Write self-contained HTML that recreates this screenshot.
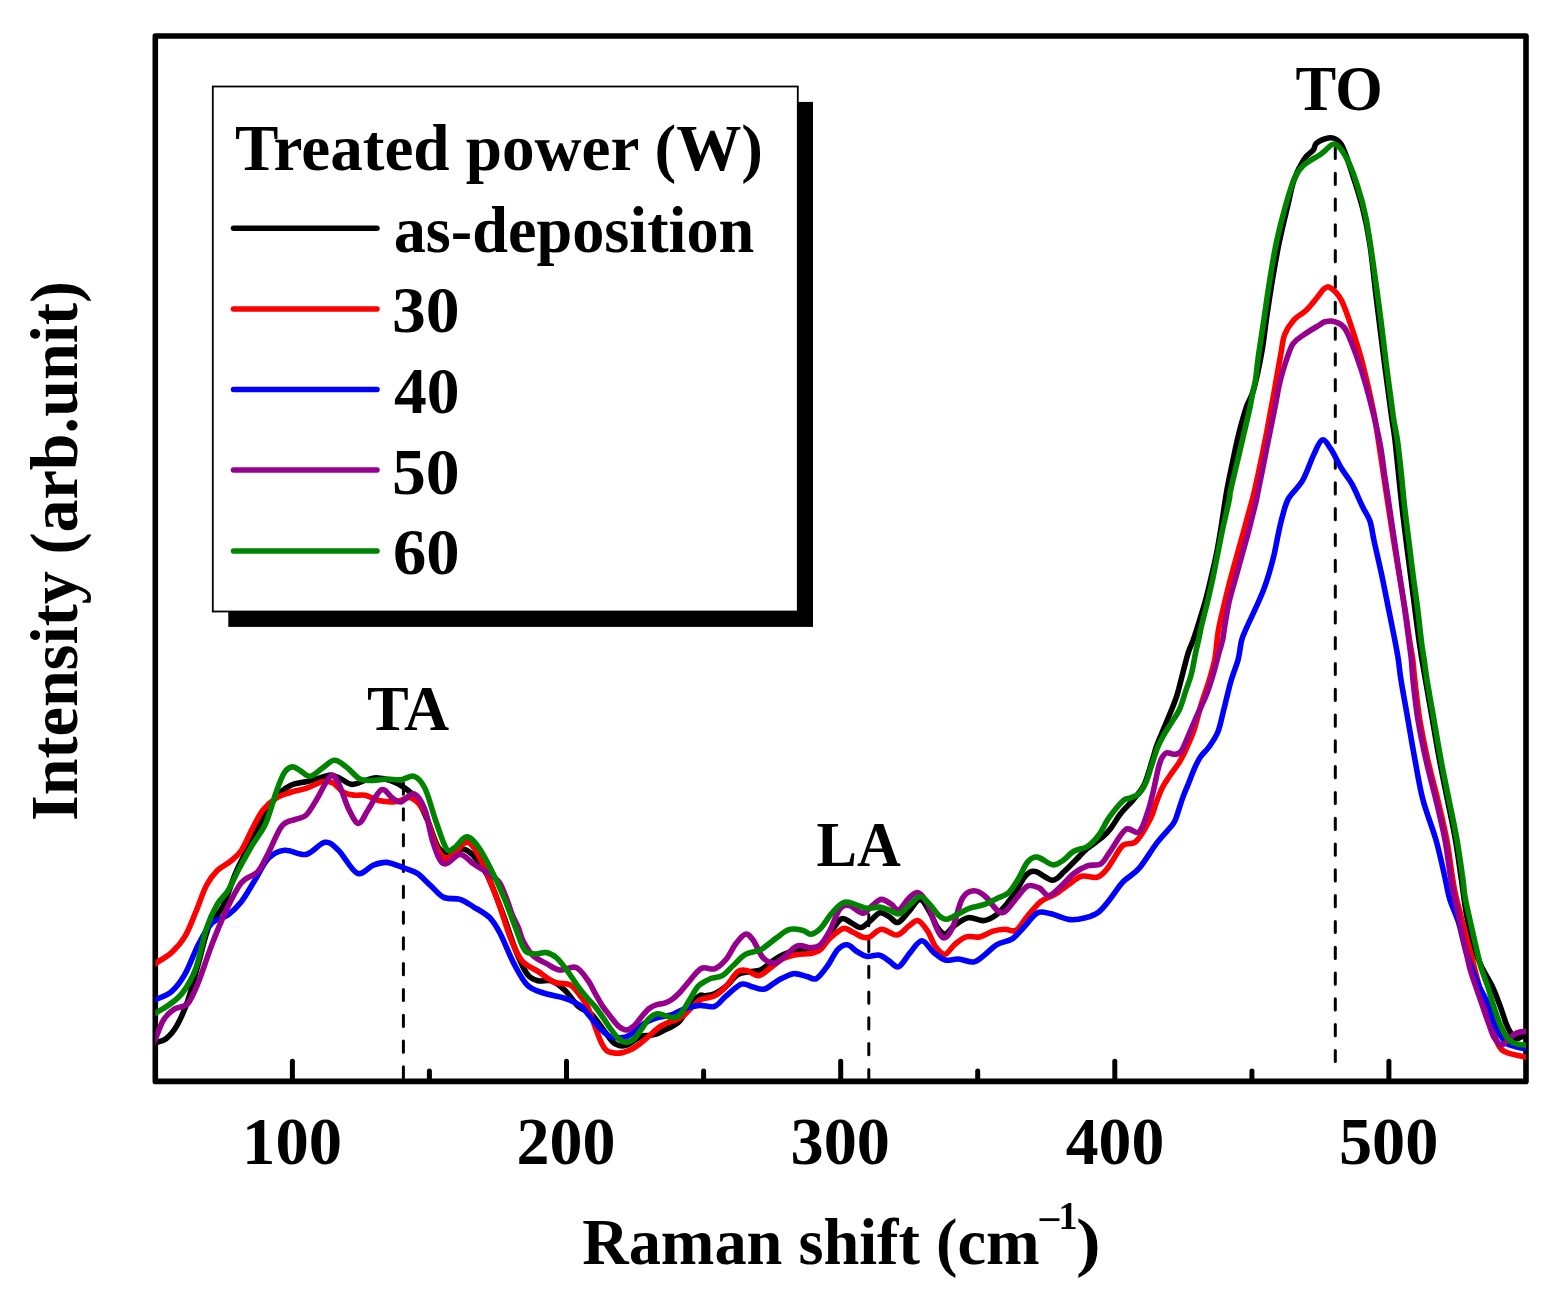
<!DOCTYPE html><html><head><meta charset="utf-8"><title>Raman spectra</title><style>html,body{margin:0;padding:0;background:#fff;overflow:hidden}svg{display:block}text{font-family:'Liberation Serif','Times New Roman',serif;font-weight:bold}</style></head><body>
<svg width="1560" height="1300" viewBox="0 0 1560 1300">
<rect x="0" y="0" width="1560" height="1300" fill="#fff"/>
<defs><clipPath id="pc"><rect x="155.3" y="36.0" width="1370.7" height="1045.4"/></clipPath></defs>
<g stroke="#000" stroke-width="5" stroke-linecap="round"><line x1="292.4" y1="1081.4" x2="292.4" y2="1061.2"/><line x1="429.4" y1="1081.4" x2="429.4" y2="1071.1"/><line x1="566.5" y1="1081.4" x2="566.5" y2="1061.2"/><line x1="703.6" y1="1081.4" x2="703.6" y2="1071.1"/><line x1="840.7" y1="1081.4" x2="840.7" y2="1061.2"/><line x1="977.7" y1="1081.4" x2="977.7" y2="1071.1"/><line x1="1114.8" y1="1081.4" x2="1114.8" y2="1061.2"/><line x1="1251.9" y1="1081.4" x2="1251.9" y2="1071.1"/><line x1="1388.9" y1="1081.4" x2="1388.9" y2="1061.2"/></g>
<rect x="155.3" y="36.0" width="1370.7" height="1045.4" fill="none" stroke="#000" stroke-width="5.6" stroke-linejoin="round"/>
<line x1="403.4" y1="783.0" x2="403.4" y2="1081.4" stroke="#000" stroke-width="3" stroke-linecap="round" stroke-dasharray="11.2 14.6"/>
<line x1="868.8" y1="914.6" x2="868.8" y2="1081.4" stroke="#000" stroke-width="3" stroke-linecap="round" stroke-dasharray="11.2 14.6"/>
<line x1="1335.3" y1="147.4" x2="1335.3" y2="1070.0" stroke="#000" stroke-width="3" stroke-linecap="round" stroke-dasharray="11.2 14.6"/>
<g clip-path="url(#pc)" fill="none" stroke-width="5.6" stroke-linejoin="round" stroke-linecap="round">
<path d="M150.0,1044.0 C150.9,1043.8 152.7,1043.6 155.4,1042.7 C158.1,1041.8 162.4,1041.6 166.0,1038.7 C169.6,1035.8 173.4,1031.6 177.0,1025.3 C180.6,1019.0 184.1,1011.3 187.7,1001.0 C191.3,990.7 194.8,975.9 198.4,963.4 C202.0,950.9 205.1,935.1 209.2,925.7 C213.2,916.3 218.2,915.8 222.7,906.8 C227.2,897.8 231.6,882.2 236.1,871.9 C240.6,861.6 245.1,854.0 249.6,845.0 C254.1,836.0 258.5,826.1 263.0,818.0 C267.5,809.9 272.0,801.9 276.5,796.5 C281.0,791.1 285.1,788.2 290.0,785.7 C294.9,783.2 301.5,782.8 306.0,781.7 C310.5,780.6 312.8,780.1 316.8,779.0 C320.9,777.9 326.3,775.0 330.3,775.0 C334.3,775.0 337.4,777.4 341.0,779.0 C344.6,780.6 347.8,784.2 351.8,784.4 C355.9,784.6 361.3,781.5 365.3,780.4 C369.3,779.3 371.9,777.7 376.0,777.7 C380.1,777.7 385.4,778.8 390.0,780.4 C394.6,782.0 399.0,784.0 403.5,787.1 C408.0,790.2 412.9,793.6 416.9,799.2 C420.9,804.8 424.1,812.6 427.7,820.7 C431.3,828.8 434.8,842.2 438.4,847.6 C442.0,853.0 445.1,852.8 449.2,853.0 C453.2,853.2 458.7,848.5 462.7,849.0 C466.7,849.5 469.4,851.4 473.4,855.7 C477.4,860.0 482.1,865.2 486.9,874.6 C491.7,884.0 497.5,899.7 502.3,912.2 C507.1,924.8 511.4,939.6 515.5,949.9 C519.6,960.2 523.5,969.0 527.2,974.1 C531.0,979.2 534.0,979.7 538.0,980.8 C542.0,981.9 547.0,979.2 551.5,980.8 C556.0,982.4 560.4,986.0 564.9,990.3 C569.4,994.6 574.0,1002.4 578.4,1006.4 C582.8,1010.4 587.4,1010.5 591.5,1014.3 C595.6,1018.1 599.5,1024.7 603.0,1029.2 C606.5,1033.7 609.7,1038.8 612.3,1041.5 C614.9,1044.2 616.2,1044.8 618.5,1045.4 C620.8,1046.1 623.7,1046.2 626.2,1045.4 C628.8,1044.6 631.2,1042.3 633.8,1040.8 C636.3,1039.3 638.9,1037.1 641.5,1036.2 C644.1,1035.3 646.6,1035.8 649.2,1035.4 C651.8,1035.0 654.3,1034.7 656.9,1033.8 C659.5,1032.9 662.0,1031.3 664.6,1030.0 C667.2,1028.7 669.7,1027.7 672.3,1026.2 C674.9,1024.7 676.8,1024.7 680.0,1020.8 C683.2,1016.9 688.2,1007.2 691.5,1003.0 C694.8,998.8 697.8,996.6 700.0,995.4 C702.2,994.2 702.6,996.1 705.0,995.8 C707.4,995.5 711.1,995.4 714.6,993.8 C718.1,992.2 722.4,989.4 726.2,986.2 C730.1,983.0 733.9,977.0 737.7,974.6 C741.5,972.2 745.4,972.5 749.2,971.7 C753.1,970.9 756.9,971.5 760.8,969.8 C764.6,968.0 768.5,963.8 772.3,961.2 C776.1,958.6 779.6,956.2 783.8,954.4 C788.0,952.6 792.8,951.1 797.3,950.6 C801.8,950.1 806.6,952.3 810.8,951.5 C815.0,950.7 818.8,949.3 822.3,945.8 C825.8,942.3 828.7,934.9 831.9,930.4 C835.1,925.9 838.3,920.1 841.5,918.8 C844.7,917.5 848.0,921.2 851.2,922.7 C854.4,924.2 857.6,927.8 860.8,927.5 C864.0,927.2 867.3,923.2 870.4,920.8 C873.5,918.4 876.5,913.6 879.6,912.9 C882.7,912.2 886.2,915.1 889.2,916.7 C892.2,918.3 894.7,923.3 897.9,922.5 C901.1,921.7 904.8,915.8 908.5,911.9 C912.2,908.0 916.5,899.4 920.0,899.4 C923.5,899.4 926.7,907.2 929.6,911.9 C932.5,916.5 934.7,923.6 937.3,927.3 C939.9,931.0 942.1,934.3 945.0,934.0 C947.9,933.7 950.8,928.1 954.6,925.4 C958.5,922.7 963.3,918.5 968.1,917.7 C972.9,916.9 979.0,920.9 983.5,920.6 C988.0,920.3 991.2,918.5 995.0,915.8 C998.8,913.1 1003.0,908.4 1006.5,904.2 C1010.0,900.0 1013.0,895.6 1016.2,890.8 C1019.4,886.0 1022.6,878.6 1025.8,875.4 C1029.0,872.2 1030.9,870.7 1035.4,871.5 C1039.9,872.3 1047.9,880.2 1052.7,880.2 C1057.5,880.2 1060.4,874.9 1064.2,871.5 C1068.0,868.1 1072.0,863.8 1075.8,860.0 C1079.6,856.2 1082.8,852.4 1087.3,848.5 C1091.8,844.6 1098.8,840.3 1102.7,836.9 C1106.7,833.5 1108.0,831.9 1111.0,828.0 C1114.0,824.1 1116.8,818.6 1120.5,813.8 C1124.2,809.0 1129.6,804.2 1133.5,799.4 C1137.4,794.6 1140.9,791.3 1144.0,785.0 C1147.1,778.7 1149.9,767.9 1151.9,761.6 C1154.0,755.3 1154.6,751.9 1156.3,747.0 C1158.0,742.1 1160.0,737.7 1162.2,732.3 C1164.4,726.9 1167.1,720.9 1169.5,714.8 C1171.9,708.7 1174.6,702.6 1176.8,695.8 C1179.0,689.0 1180.6,681.2 1182.6,673.9 C1184.5,666.6 1186.8,657.2 1188.5,651.9 C1190.2,646.6 1191.2,645.6 1192.5,642.0 C1193.8,638.4 1194.5,636.5 1196.5,630.0 C1198.5,623.5 1202.4,611.7 1204.8,603.1 C1207.2,594.5 1209.0,586.7 1210.9,578.5 C1212.9,570.3 1214.8,562.0 1216.5,553.8 C1218.2,545.6 1219.1,539.7 1220.8,529.2 C1222.5,518.7 1224.9,501.8 1226.8,490.8 C1228.7,479.8 1230.5,472.3 1232.4,463.1 C1234.3,453.9 1236.1,444.6 1238.4,435.4 C1240.7,426.2 1243.7,415.3 1246.2,407.7 C1248.7,400.1 1250.9,399.1 1253.5,390.0 C1256.1,380.9 1259.4,365.4 1261.6,353.1 C1263.8,340.8 1265.0,328.5 1266.8,316.2 C1268.6,303.9 1270.4,291.5 1272.5,279.2 C1274.6,266.9 1276.7,254.6 1279.2,242.3 C1281.8,230.0 1285.3,215.8 1287.8,205.4 C1290.3,195.0 1291.3,187.7 1294.0,180.0 C1296.7,172.3 1300.9,164.2 1304.1,159.2 C1307.3,154.2 1311.2,152.7 1313.3,150.0 C1315.4,147.3 1313.8,145.1 1316.7,143.0 C1319.6,140.9 1326.7,137.4 1330.8,137.7 C1334.9,138.0 1337.9,138.9 1341.4,144.8 C1344.9,150.7 1348.5,162.4 1352.0,173.0 C1355.5,183.6 1359.7,196.4 1362.7,208.4 C1365.7,220.4 1367.7,229.8 1370.0,245.0 C1372.3,260.2 1374.0,279.5 1376.5,299.6 C1379.0,319.7 1382.3,346.5 1384.8,365.8 C1387.3,385.1 1389.7,403.1 1391.4,415.5 C1393.1,427.9 1393.2,424.6 1395.0,440.0 C1396.8,455.4 1399.5,485.1 1402.1,507.7 C1404.7,530.2 1407.7,552.8 1410.6,575.3 C1413.5,597.8 1416.9,625.5 1419.4,643.0 C1421.9,660.5 1423.3,667.2 1425.5,680.0 C1427.7,692.8 1430.2,706.7 1432.5,720.0 C1434.8,733.3 1437.0,746.7 1439.5,760.0 C1442.0,773.3 1444.8,786.7 1447.5,800.0 C1450.2,813.3 1453.2,826.7 1455.5,840.0 C1457.8,853.3 1459.6,867.4 1461.5,880.0 C1463.4,892.6 1464.5,903.9 1466.7,915.6 C1469.0,927.3 1472.4,941.2 1475.0,950.0 C1477.6,958.8 1479.6,962.4 1482.5,968.5 C1485.4,974.6 1489.6,980.8 1492.5,986.9 C1495.4,993.0 1497.6,999.2 1499.9,1005.4 C1502.2,1011.6 1504.5,1019.3 1506.3,1023.9 C1508.1,1028.5 1509.2,1030.6 1510.9,1033.1 C1512.6,1035.5 1514.3,1038.2 1516.5,1038.6 C1518.7,1039.0 1521.3,1036.4 1523.9,1035.5 C1526.5,1034.6 1530.7,1033.4 1532.0,1033.0" stroke="#000000"/>
<path d="M150.0,967.0 C150.9,966.4 151.8,965.8 155.4,963.4 C159.0,961.0 166.6,957.1 171.5,952.6 C176.4,948.1 181.0,943.1 185.0,936.4 C189.0,929.7 192.1,920.7 195.7,912.2 C199.3,903.7 202.9,892.2 206.5,885.3 C210.1,878.3 213.3,874.5 217.3,870.5 C221.3,866.5 226.7,864.5 230.7,861.1 C234.7,857.7 237.9,855.7 241.5,850.3 C245.1,844.9 248.7,835.5 252.3,828.8 C255.9,822.1 259.0,815.1 263.0,810.0 C267.0,804.9 272.0,800.8 276.5,797.9 C281.0,795.0 285.1,794.1 290.0,792.5 C294.9,790.9 300.6,790.2 306.0,788.4 C311.4,786.6 317.7,782.6 322.2,781.7 C326.7,780.8 329.4,781.2 333.0,783.0 C336.6,784.8 340.2,790.5 343.8,792.5 C347.4,794.5 350.9,794.8 354.5,795.2 C358.1,795.7 361.3,794.3 365.3,795.2 C369.3,796.1 374.2,799.4 378.7,800.5 C383.2,801.6 388.5,801.9 392.2,801.9 C395.9,801.9 397.6,801.2 400.8,800.5 C404.0,799.8 407.5,795.9 411.5,797.9 C415.5,799.9 421.0,804.9 425.0,812.7 C429.0,820.6 432.3,837.4 435.7,845.0 C439.1,852.6 442.0,857.1 445.2,858.4 C448.4,859.7 450.8,855.7 454.6,853.0 C458.4,850.3 463.5,840.9 468.0,842.3 C472.5,843.6 476.5,851.2 481.5,861.1 C486.5,871.0 493.1,888.5 498.0,901.5 C502.9,914.5 506.9,929.2 510.9,939.1 C514.9,949.0 517.4,955.3 521.9,960.7 C526.4,966.1 532.6,967.8 538.0,971.4 C543.4,975.0 548.8,980.0 554.2,982.2 C559.6,984.5 566.0,982.7 570.3,984.9 C574.6,987.1 577.1,991.7 580.0,995.4 C582.9,999.1 585.1,1001.5 587.7,1006.9 C590.3,1012.3 593.1,1021.7 595.4,1027.7 C597.7,1033.7 599.6,1039.2 601.5,1043.0 C603.4,1046.8 604.7,1049.1 606.9,1050.8 C609.1,1052.5 612.0,1052.8 614.6,1053.1 C617.2,1053.4 619.7,1053.2 622.3,1052.7 C624.9,1052.2 627.4,1051.2 630.0,1050.0 C632.6,1048.8 635.1,1047.2 637.7,1045.4 C640.3,1043.6 642.8,1041.4 645.4,1039.2 C648.0,1037.0 650.5,1034.5 653.1,1032.3 C655.7,1030.1 658.2,1027.9 660.8,1026.2 C663.4,1024.5 665.9,1023.3 668.5,1022.3 C671.1,1021.3 673.7,1021.1 676.2,1020.0 C678.8,1018.9 681.2,1017.4 683.8,1015.4 C686.3,1013.4 688.8,1010.3 691.5,1007.7 C694.2,1005.1 696.1,1002.0 700.0,1000.0 C703.9,998.0 710.2,998.1 714.6,995.8 C719.0,993.5 722.4,990.2 726.2,986.2 C730.1,982.2 734.2,974.3 737.7,971.7 C741.2,969.1 743.8,970.1 747.3,970.8 C750.8,971.4 754.9,976.1 758.8,975.6 C762.6,975.1 766.2,970.8 770.4,967.9 C774.6,965.0 779.3,960.5 783.8,958.3 C788.3,956.0 792.8,955.2 797.3,954.4 C801.8,953.6 806.9,954.3 810.8,953.5 C814.6,952.7 817.2,952.2 820.4,949.6 C823.6,947.0 826.1,941.6 830.0,938.1 C833.9,934.6 839.6,929.5 843.5,928.5 C847.4,927.5 849.9,930.9 853.1,932.3 C856.3,933.7 859.9,936.3 862.7,937.1 C865.5,937.9 866.9,938.2 870.0,936.9 C873.1,935.6 877.0,929.5 881.5,929.2 C886.0,928.9 892.4,935.5 896.9,935.0 C901.4,934.5 905.0,928.7 908.5,926.3 C912.0,923.9 914.9,919.8 918.1,920.6 C921.3,921.4 924.8,926.9 927.7,931.2 C930.6,935.5 932.5,942.7 935.4,946.5 C938.3,950.3 941.8,954.5 945.0,954.2 C948.2,953.9 951.1,947.5 954.6,944.6 C958.1,941.7 962.0,938.2 966.2,936.9 C970.4,935.6 975.1,937.8 979.6,936.9 C984.1,936.0 988.9,932.5 993.1,931.2 C997.3,929.9 1000.8,929.4 1004.6,929.2 C1008.5,929.0 1012.4,932.4 1016.2,930.2 C1020.1,928.0 1023.5,920.6 1027.7,915.8 C1031.9,911.0 1036.7,904.8 1041.2,901.3 C1045.7,897.8 1050.1,897.3 1054.6,894.6 C1059.1,891.9 1063.6,888.0 1068.1,885.0 C1072.6,882.0 1076.7,877.6 1081.5,876.3 C1086.3,875.0 1092.7,878.4 1096.9,877.3 C1101.1,876.2 1103.8,872.5 1106.5,869.6 C1109.2,866.7 1110.2,864.1 1113.0,860.0 C1115.8,855.9 1119.2,848.3 1123.1,845.2 C1127.0,842.1 1131.6,845.7 1136.2,841.3 C1140.8,836.9 1147.2,825.1 1150.5,818.6 C1153.8,812.1 1154.3,807.6 1156.3,802.5 C1158.2,797.4 1160.0,792.3 1162.2,787.9 C1164.4,783.5 1166.6,780.6 1169.5,776.2 C1172.4,771.8 1176.8,766.5 1179.7,761.6 C1182.6,756.7 1184.6,752.4 1187.0,747.0 C1189.4,741.6 1191.9,736.7 1194.3,729.4 C1196.7,722.1 1199.2,711.1 1201.6,703.1 C1204.0,695.1 1206.7,688.5 1208.9,681.2 C1211.1,673.9 1213.4,666.1 1214.8,659.2 C1216.2,652.3 1216.4,645.2 1217.1,640.0 C1217.8,634.8 1217.7,633.9 1218.9,627.7 C1220.1,621.6 1222.5,611.3 1224.5,603.1 C1226.5,594.9 1228.4,586.7 1230.6,578.5 C1232.8,570.3 1235.1,562.0 1237.4,553.8 C1239.7,545.6 1241.7,538.2 1244.2,529.2 C1246.7,520.2 1250.5,506.4 1252.2,500.0 C1253.9,493.6 1253.1,496.9 1254.5,490.8 C1255.9,484.7 1258.6,472.3 1260.5,463.1 C1262.4,453.9 1264.3,444.6 1266.1,435.4 C1267.9,426.2 1269.8,415.3 1271.2,407.7 C1272.6,400.1 1273.7,394.6 1274.5,390.0 C1275.3,385.4 1275.1,386.1 1276.2,380.0 C1277.3,373.9 1279.6,360.7 1281.0,353.1 C1282.4,345.5 1282.5,340.2 1284.7,334.6 C1286.9,329.1 1290.4,323.8 1293.9,319.8 C1297.4,315.8 1302.1,314.3 1305.9,310.6 C1309.8,306.9 1313.9,301.4 1317.0,297.7 C1320.1,294.0 1322.1,290.1 1324.4,288.5 C1326.7,286.9 1328.0,286.0 1330.8,288.0 C1333.6,290.0 1337.9,293.5 1341.4,300.3 C1344.9,307.1 1348.5,318.0 1352.0,328.6 C1355.5,339.2 1359.2,350.4 1362.7,364.0 C1366.2,377.6 1370.7,397.3 1373.3,410.0 C1375.9,422.7 1376.6,429.4 1378.3,440.0 C1380.0,450.6 1381.7,462.5 1383.4,473.8 C1385.1,485.1 1386.8,496.4 1388.5,507.7 C1390.2,519.0 1392.0,530.2 1393.8,541.5 C1395.6,552.8 1397.4,564.0 1399.3,575.3 C1401.2,586.6 1403.2,597.8 1405.0,609.1 C1406.8,620.4 1408.7,634.5 1410.0,643.0 C1411.3,651.5 1412.0,653.8 1412.8,660.0 C1413.6,666.2 1413.6,670.0 1414.8,680.0 C1416.0,690.0 1417.6,706.7 1419.8,720.0 C1422.0,733.3 1424.8,746.7 1427.8,760.0 C1430.8,773.3 1434.6,786.7 1437.8,800.0 C1441.0,813.3 1444.3,826.7 1446.8,840.0 C1449.3,853.3 1451.1,870.0 1452.8,880.0 C1454.5,890.0 1453.9,888.3 1456.8,900.0 C1459.7,911.7 1466.1,935.5 1469.9,950.0 C1473.7,964.5 1475.9,974.6 1479.5,986.9 C1483.1,999.2 1488.7,1014.7 1491.6,1023.9 C1494.5,1033.1 1495.4,1038.0 1497.1,1042.3 C1498.8,1046.6 1499.7,1047.8 1501.7,1049.7 C1503.7,1051.6 1505.1,1052.2 1509.1,1053.4 C1513.1,1054.6 1521.9,1056.3 1525.7,1057.1 C1529.5,1057.9 1531.0,1057.8 1532.0,1058.0" stroke="#ff0000"/>
<path d="M150.0,1002.0 C150.9,1001.6 151.8,1001.4 155.4,999.7 C159.0,998.0 166.6,995.9 171.5,991.6 C176.4,987.3 180.5,982.0 185.0,974.1 C189.5,966.2 193.9,953.0 198.4,944.5 C202.9,936.0 207.0,927.9 211.9,923.0 C216.8,918.1 223.1,918.6 228.0,915.0 C232.9,911.4 237.0,907.3 241.5,901.5 C246.0,895.7 250.5,887.2 255.0,880.0 C259.5,872.8 263.5,863.4 268.4,858.4 C273.3,853.4 278.3,851.0 284.6,850.3 C290.9,849.6 299.3,855.7 306.0,854.4 C312.7,853.1 319.6,843.0 325.0,842.3 C330.4,841.6 333.0,845.1 338.4,850.3 C343.8,855.4 351.4,870.7 357.2,873.2 C363.0,875.7 368.5,866.9 373.4,865.1 C378.3,863.3 381.8,862.0 386.8,862.4 C391.8,862.8 398.5,866.0 403.5,867.8 C408.5,869.6 412.4,870.3 416.9,873.2 C421.4,876.1 425.9,881.3 430.4,885.3 C434.9,889.3 438.9,895.1 443.8,897.4 C448.7,899.7 455.1,897.7 460.0,899.3 C464.9,900.9 468.5,903.8 473.4,906.8 C478.3,909.8 485.1,913.1 489.6,917.6 C494.1,922.1 496.3,926.2 500.3,933.8 C504.3,941.4 509.3,954.9 513.8,963.4 C518.3,971.9 522.3,980.0 527.2,984.9 C532.1,989.8 537.1,990.8 543.4,993.0 C549.7,995.2 558.8,996.2 564.9,998.3 C571.0,1000.4 576.2,1002.8 580.0,1005.4 C583.8,1008.0 585.1,1010.8 587.7,1013.8 C590.3,1016.8 592.8,1020.1 595.4,1023.1 C598.0,1026.0 600.5,1029.2 603.1,1031.5 C605.7,1033.8 608.2,1035.9 610.8,1036.9 C613.4,1037.9 615.9,1037.7 618.5,1037.7 C621.1,1037.7 623.7,1037.8 626.2,1036.9 C628.8,1036.0 631.2,1034.2 633.8,1032.3 C636.3,1030.4 638.9,1027.3 641.5,1025.4 C644.1,1023.5 646.6,1022.1 649.2,1020.8 C651.8,1019.5 654.3,1018.5 656.9,1017.7 C659.5,1016.9 662.0,1016.7 664.6,1016.2 C667.2,1015.7 669.7,1015.5 672.3,1014.6 C674.9,1013.7 677.4,1011.9 680.0,1010.8 C682.6,1009.6 684.4,1008.6 687.7,1007.7 C691.0,1006.8 695.5,1005.6 700.0,1005.4 C704.5,1005.2 710.2,1007.9 714.6,1006.3 C719.0,1004.7 721.7,999.5 726.2,995.8 C730.7,992.1 737.0,985.7 741.5,984.2 C746.0,982.8 749.2,986.3 753.1,987.1 C757.0,987.9 760.4,990.1 764.6,989.0 C768.8,987.9 773.3,982.9 778.1,980.4 C782.9,977.9 788.7,974.4 793.5,973.7 C798.3,973.1 803.1,975.7 806.9,976.5 C810.7,977.3 813.0,980.4 816.5,978.5 C820.0,976.6 824.6,969.8 828.1,965.0 C831.6,960.2 834.5,953.0 837.7,949.6 C840.9,946.2 844.1,944.5 847.3,944.8 C850.5,945.1 853.7,949.6 856.9,951.5 C860.1,953.4 862.7,955.7 866.5,956.3 C870.3,956.9 875.8,954.4 879.6,955.2 C883.4,956.0 886.0,959.1 889.2,961.0 C892.4,962.9 895.3,968.2 898.8,966.7 C902.3,965.2 906.5,956.6 910.4,952.3 C914.2,948.0 918.0,940.8 921.9,940.8 C925.8,940.8 929.6,949.1 933.5,952.3 C937.4,955.5 940.8,958.9 945.0,960.0 C949.2,961.1 953.7,958.7 958.5,959.0 C963.3,959.3 969.3,962.7 973.8,961.9 C978.3,961.1 981.5,957.1 985.4,954.2 C989.2,951.3 992.4,947.2 996.9,944.6 C1001.4,942.0 1007.8,941.7 1012.3,938.8 C1016.8,935.9 1019.6,931.6 1023.8,927.3 C1028.0,923.0 1032.8,915.1 1037.3,912.9 C1041.8,910.6 1045.3,912.7 1050.8,913.8 C1056.2,914.9 1064.2,919.0 1070.0,919.6 C1075.8,920.2 1080.6,919.0 1085.4,917.7 C1090.2,916.4 1094.7,915.0 1098.8,911.9 C1102.9,908.8 1106.2,904.0 1110.2,899.0 C1114.2,894.0 1118.3,886.8 1123.1,881.8 C1127.9,876.8 1133.1,875.2 1138.8,868.7 C1144.5,862.2 1151.4,850.0 1157.1,842.6 C1162.8,835.2 1169.5,828.8 1172.8,824.3 C1176.1,819.8 1175.2,820.1 1176.8,815.7 C1178.4,811.3 1180.6,803.5 1182.6,798.1 C1184.5,792.7 1186.5,788.4 1188.5,783.5 C1190.5,778.6 1192.3,773.3 1194.3,768.9 C1196.2,764.5 1197.8,760.9 1200.2,757.2 C1202.6,753.6 1206.0,751.1 1208.9,747.0 C1211.8,742.9 1215.2,738.4 1217.7,732.3 C1220.2,726.2 1221.4,718.9 1223.6,710.4 C1225.8,701.9 1228.5,689.7 1230.9,681.2 C1233.3,672.7 1236.4,666.1 1238.2,659.2 C1240.0,652.3 1240.3,645.2 1241.7,640.0 C1243.1,634.8 1244.3,632.8 1246.6,627.7 C1248.8,622.6 1252.4,615.4 1255.2,609.2 C1258.0,603.1 1260.8,596.9 1263.2,590.8 C1265.6,584.6 1267.6,578.5 1269.4,572.3 C1271.2,566.1 1272.9,559.9 1274.3,553.8 C1275.7,547.6 1276.7,541.5 1278.0,535.4 C1279.3,529.2 1280.5,523.0 1282.3,516.9 C1284.0,510.8 1285.1,504.5 1288.5,498.5 C1291.9,492.5 1298.4,487.8 1302.5,480.7 C1306.6,473.6 1310.0,462.7 1313.2,455.9 C1316.5,449.1 1319.1,441.2 1322.0,440.0 C1324.9,438.8 1327.6,444.2 1330.8,448.9 C1334.0,453.6 1337.9,462.4 1341.4,468.3 C1344.9,474.2 1348.5,477.8 1352.0,484.2 C1355.5,490.6 1359.7,500.8 1362.7,507.0 C1365.7,513.2 1368.1,515.5 1370.0,521.2 C1371.9,527.0 1372.2,532.5 1374.2,541.5 C1376.2,550.5 1379.4,564.0 1381.8,575.3 C1384.2,586.6 1386.3,597.8 1388.6,609.1 C1390.9,620.4 1393.8,634.5 1395.4,643.0 C1397.0,651.5 1397.5,653.8 1398.4,660.0 C1399.3,666.2 1399.4,670.0 1401.0,680.0 C1402.6,690.0 1405.7,706.7 1408.0,720.0 C1410.3,733.3 1412.5,746.7 1415.0,760.0 C1417.5,773.3 1419.5,786.7 1423.0,800.0 C1426.5,813.3 1432.2,826.7 1436.0,840.0 C1439.8,853.3 1443.2,870.0 1445.5,880.0 C1447.8,890.0 1447.8,893.0 1450.0,900.0 C1452.2,907.0 1455.9,913.8 1458.5,922.1 C1461.1,930.4 1463.3,942.5 1465.5,950.0 C1467.7,957.5 1469.2,961.1 1471.5,967.3 C1473.8,973.4 1476.6,980.5 1479.5,986.9 C1482.4,993.2 1486.3,999.2 1488.8,1005.4 C1491.3,1011.6 1491.5,1017.8 1494.3,1023.9 C1497.1,1030.0 1501.9,1038.5 1505.4,1042.3 C1508.9,1046.1 1511.7,1045.4 1515.1,1046.5 C1518.5,1047.6 1522.9,1048.4 1525.7,1048.8 C1528.5,1049.2 1531.0,1049.0 1532.0,1049.0" stroke="#0000ff"/>
<path d="M150.0,1050.0 C150.9,1048.1 153.2,1043.7 155.4,1038.7 C157.7,1033.7 160.4,1024.8 163.5,1019.9 C166.6,1015.0 170.2,1011.8 174.2,1009.1 C178.2,1006.4 183.7,1008.2 187.7,1003.7 C191.7,999.2 194.4,992.1 198.4,982.2 C202.4,972.3 207.4,956.2 211.9,944.5 C216.4,932.8 220.5,922.5 225.4,912.2 C230.3,901.9 236.1,889.3 241.5,882.6 C246.9,875.9 253.1,876.8 257.6,871.9 C262.1,867.0 264.3,860.6 268.4,853.0 C272.4,845.4 277.4,831.7 281.9,826.1 C286.4,820.5 291.3,821.2 295.3,819.4 C299.3,817.6 302.4,818.7 306.0,815.3 C309.6,811.9 312.8,805.7 316.8,799.2 C320.9,792.7 326.7,779.0 330.3,776.3 C333.9,773.6 335.3,777.4 338.4,783.0 C341.5,788.6 345.7,803.3 349.1,810.0 C352.5,816.7 355.5,823.4 358.6,823.4 C361.8,823.4 364.2,815.6 368.0,810.0 C371.8,804.4 377.4,791.8 381.4,789.8 C385.4,787.8 389.0,795.9 392.2,797.9 C395.4,799.9 397.1,802.6 400.8,801.9 C404.5,801.2 410.2,792.4 414.2,793.8 C418.2,795.1 421.9,801.9 425.0,810.0 C428.1,818.1 429.9,833.3 433.0,842.3 C436.1,851.3 439.3,861.8 443.8,863.8 C448.3,865.8 455.1,854.4 460.0,854.4 C464.9,854.4 469.4,861.1 473.4,863.8 C477.4,866.5 480.9,868.5 484.0,870.5 C487.1,872.5 489.5,874.1 492.0,876.0 C494.5,877.9 497.0,879.3 499.0,882.0 C501.0,884.7 502.4,888.3 504.0,892.0 C505.6,895.7 507.1,900.1 508.5,904.0 C509.9,907.9 510.8,911.4 512.5,915.4 C514.2,919.4 516.8,923.8 518.5,928.0 C520.2,932.2 520.6,936.2 523.0,940.8 C525.4,945.3 528.8,951.5 532.6,955.3 C536.5,959.1 541.6,960.9 546.1,963.4 C550.6,965.9 554.6,969.4 559.5,970.1 C564.4,970.8 571.0,965.8 575.7,967.4 C580.4,969.0 584.4,975.6 587.7,980.0 C591.0,984.4 592.8,989.3 595.4,993.8 C598.0,998.3 600.5,1003.0 603.1,1006.9 C605.7,1010.8 608.2,1013.7 610.8,1016.9 C613.4,1020.1 615.9,1024.0 618.5,1026.2 C621.1,1028.4 623.7,1030.0 626.2,1030.0 C628.8,1030.0 631.2,1028.4 633.8,1026.2 C636.3,1024.0 638.9,1019.9 641.5,1016.9 C644.1,1013.9 646.6,1010.5 649.2,1008.5 C651.8,1006.5 654.3,1005.5 656.9,1004.6 C659.5,1003.7 662.0,1004.0 664.6,1003.1 C667.2,1002.2 669.7,1001.0 672.3,999.2 C674.9,997.4 677.4,995.0 680.0,992.3 C682.6,989.6 684.2,987.1 687.7,983.1 C691.2,979.1 696.7,970.9 701.2,968.5 C705.7,966.1 710.4,970.3 714.6,968.8 C718.8,967.2 722.7,963.4 726.2,959.2 C729.7,955.0 732.6,948.0 735.8,943.8 C739.0,939.6 742.5,934.8 745.4,934.2 C748.3,933.6 750.2,936.1 753.1,940.0 C756.0,943.9 759.2,953.4 762.7,957.3 C766.2,961.1 770.7,963.1 774.2,963.1 C777.7,963.1 779.9,960.2 783.8,957.3 C787.6,954.4 792.8,947.4 797.3,945.8 C801.8,944.2 806.9,947.9 810.8,947.7 C814.6,947.5 817.2,947.7 820.4,944.8 C823.6,941.9 826.8,936.3 830.0,930.4 C833.2,924.5 836.4,913.4 839.6,909.2 C842.8,905.0 845.4,904.8 849.2,905.4 C853.1,906.0 858.9,913.1 862.7,913.1 C866.6,913.1 869.2,907.7 872.3,905.4 C875.4,903.1 878.4,899.6 881.5,899.4 C884.6,899.2 888.3,902.4 891.2,904.2 C894.1,906.0 895.9,911.0 898.8,910.0 C901.7,909.0 905.3,901.4 908.5,898.5 C911.7,895.6 914.9,891.8 918.1,892.7 C921.3,893.7 924.7,898.4 927.7,904.2 C930.7,910.0 933.6,921.7 936.3,927.3 C939.0,932.9 941.3,937.9 944.0,937.9 C946.7,937.9 949.7,933.9 952.7,927.3 C955.8,920.7 958.8,904.6 962.3,898.5 C965.8,892.4 969.9,891.1 973.8,890.8 C977.6,890.5 981.5,893.3 985.4,896.5 C989.2,899.7 993.7,907.4 996.9,910.0 C1000.1,912.6 1001.4,913.8 1004.6,911.9 C1007.8,910.0 1012.4,902.8 1016.2,898.5 C1020.1,894.2 1023.9,887.8 1027.7,886.0 C1031.5,884.2 1035.7,886.3 1039.2,887.9 C1042.7,889.5 1045.3,895.8 1048.8,895.6 C1052.3,895.4 1056.2,890.6 1060.4,886.9 C1064.6,883.2 1069.3,877.0 1073.8,873.5 C1078.3,870.0 1082.8,867.4 1087.3,865.8 C1091.8,864.2 1097.0,866.2 1100.8,863.8 C1104.6,861.4 1106.0,857.0 1110.2,851.3 C1114.4,845.6 1120.9,832.7 1125.7,829.5 C1130.5,826.3 1135.2,834.9 1138.8,832.1 C1142.4,829.3 1145.1,819.6 1147.5,812.7 C1149.9,805.8 1151.7,797.8 1153.4,790.8 C1155.1,783.8 1156.5,775.8 1157.8,770.4 C1159.1,765.0 1160.0,761.6 1161.4,758.7 C1162.9,755.8 1164.4,753.5 1166.5,752.8 C1168.6,752.1 1171.5,754.5 1173.9,754.3 C1176.4,754.0 1178.8,754.5 1181.2,751.3 C1183.6,748.1 1185.8,741.4 1188.5,735.3 C1191.2,729.2 1194.4,721.4 1197.3,714.8 C1200.2,708.2 1203.3,702.6 1206.0,695.8 C1208.7,689.0 1211.1,681.2 1213.3,673.9 C1215.5,666.6 1217.7,657.5 1219.2,651.9 C1220.8,646.2 1221.7,644.0 1222.6,640.0 C1223.5,636.0 1223.5,633.9 1224.5,627.7 C1225.5,621.6 1227.0,611.3 1228.8,603.1 C1230.6,594.9 1233.2,586.7 1235.5,578.5 C1237.8,570.3 1240.0,562.0 1242.3,553.8 C1244.6,545.6 1246.8,538.2 1249.1,529.2 C1251.4,520.2 1254.9,506.4 1256.4,500.0 C1257.9,493.6 1257.0,496.9 1258.2,490.8 C1259.4,484.7 1262.0,472.3 1263.8,463.1 C1265.6,453.9 1267.4,444.6 1269.3,435.4 C1271.2,426.2 1273.4,415.3 1274.9,407.7 C1276.4,400.1 1277.3,394.6 1278.2,390.0 C1279.1,385.4 1279.2,384.6 1280.4,380.0 C1281.6,375.4 1283.5,368.3 1285.6,362.3 C1287.7,356.3 1289.9,348.4 1293.0,343.8 C1296.1,339.2 1299.8,337.7 1304.1,334.6 C1308.4,331.5 1315.3,327.5 1318.8,325.4 C1322.3,323.2 1322.4,322.3 1325.0,321.7 C1327.6,321.1 1331.1,320.5 1334.4,321.6 C1337.7,322.8 1341.5,323.3 1345.0,328.6 C1348.5,333.9 1352.1,343.8 1355.6,353.4 C1359.1,363.0 1362.2,371.8 1366.2,386.2 C1370.2,400.6 1376.3,425.4 1379.3,440.0 C1382.3,454.6 1382.7,462.5 1384.4,473.8 C1386.1,485.1 1387.8,496.4 1389.5,507.7 C1391.2,519.0 1392.8,530.2 1394.5,541.5 C1396.2,552.8 1397.9,564.0 1399.6,575.3 C1401.3,586.6 1403.1,597.8 1404.7,609.1 C1406.3,620.4 1408.1,634.5 1409.2,643.0 C1410.3,651.5 1410.8,653.8 1411.4,660.0 C1412.0,666.2 1411.9,670.0 1413.0,680.0 C1414.1,690.0 1415.8,706.7 1418.0,720.0 C1420.2,733.3 1423.0,746.7 1426.0,760.0 C1429.0,773.3 1432.8,786.7 1436.0,800.0 C1439.2,813.3 1442.5,826.7 1445.0,840.0 C1447.5,853.3 1449.3,870.0 1451.0,880.0 C1452.7,890.0 1452.5,888.3 1455.0,900.0 C1457.5,911.7 1463.2,938.6 1465.7,950.0 C1468.2,961.4 1468.2,962.4 1469.9,968.5 C1471.6,974.6 1473.8,980.8 1475.9,986.9 C1478.0,993.0 1480.2,999.2 1482.3,1005.4 C1484.4,1011.6 1486.8,1018.5 1488.8,1023.9 C1490.8,1029.3 1492.1,1034.2 1494.3,1037.7 C1496.5,1041.2 1499.2,1044.9 1501.7,1045.1 C1504.2,1045.2 1506.6,1040.6 1509.1,1038.6 C1511.6,1036.6 1513.7,1034.3 1516.5,1033.1 C1519.3,1031.9 1523.1,1031.6 1525.7,1031.3 C1528.3,1031.0 1531.0,1031.0 1532.0,1031.0" stroke="#96008c"/>
<path d="M150.0,1016.0 C150.9,1015.5 152.3,1014.9 155.4,1013.1 C158.5,1011.3 164.3,1008.4 168.8,1005.0 C173.3,1001.6 177.8,999.0 182.3,993.0 C186.8,987.0 191.7,979.5 195.7,968.7 C199.7,957.9 202.9,939.1 206.5,928.4 C210.1,917.6 213.7,910.5 217.3,904.2 C220.9,897.9 224.4,896.5 228.0,890.7 C231.6,884.9 234.8,876.8 238.8,869.2 C242.9,861.6 247.8,852.6 252.3,845.0 C256.8,837.4 261.7,832.4 265.7,823.4 C269.7,814.4 273.4,799.6 276.5,791.1 C279.6,782.6 281.9,776.3 284.6,772.3 C287.3,768.3 289.9,767.1 292.6,766.9 C295.3,766.7 297.8,769.4 300.7,771.0 C303.6,772.6 306.5,776.8 310.1,776.3 C313.7,775.8 318.2,771.0 322.2,768.3 C326.2,765.6 330.3,760.4 334.3,760.2 C338.3,760.0 342.1,763.8 346.4,766.9 C350.7,770.0 355.4,776.8 359.9,779.0 C364.4,781.2 368.9,780.4 373.4,780.4 C377.9,780.4 382.2,779.1 386.8,779.0 C391.4,778.9 396.2,780.2 400.8,779.8 C405.4,779.3 410.2,774.9 414.2,776.3 C418.2,777.7 421.4,781.0 425.0,788.4 C428.6,795.8 432.1,810.6 435.7,820.7 C439.3,830.8 443.4,844.5 446.5,849.0 C449.6,853.5 451.2,849.6 454.6,847.6 C458.0,845.6 462.7,836.9 466.7,836.9 C470.7,836.9 474.5,841.8 478.8,847.6 C483.1,853.4 488.0,863.4 492.3,871.9 C496.6,880.4 500.6,889.4 504.5,898.8 C508.4,908.2 512.4,919.9 515.8,928.4 C519.1,936.9 521.4,945.6 524.6,949.9 C527.9,954.1 531.7,953.4 535.3,953.9 C538.9,954.4 542.5,951.9 546.1,952.6 C549.7,953.3 553.2,954.9 556.8,958.0 C560.4,961.1 563.7,966.2 567.6,971.4 C571.5,976.6 576.6,984.7 580.0,989.2 C583.4,993.7 585.1,995.5 587.7,998.5 C590.3,1001.5 592.8,1003.7 595.4,1006.9 C598.0,1010.1 600.5,1014.0 603.1,1017.7 C605.7,1021.4 608.2,1025.7 610.8,1029.2 C613.4,1032.7 615.9,1036.3 618.5,1038.5 C621.1,1040.7 623.7,1042.2 626.2,1042.3 C628.8,1042.4 631.2,1041.4 633.8,1039.2 C636.3,1037.0 638.9,1032.7 641.5,1029.2 C644.1,1025.8 646.6,1021.1 649.2,1018.5 C651.8,1015.9 654.3,1014.3 656.9,1013.8 C659.5,1013.3 662.0,1014.8 664.6,1015.4 C667.2,1016.0 669.7,1017.8 672.3,1017.7 C674.9,1017.6 677.4,1017.0 680.0,1014.6 C682.6,1012.2 685.1,1007.2 687.7,1003.1 C690.3,999.0 693.4,993.1 695.4,990.0 C697.4,986.9 697.4,986.5 700.0,984.6 C702.6,982.7 707.1,980.0 710.8,978.5 C714.5,977.0 718.5,977.9 722.3,975.6 C726.1,973.4 729.9,968.5 733.8,965.0 C737.6,961.5 740.9,957.0 745.4,954.4 C749.9,951.8 755.7,952.3 760.8,949.6 C765.9,946.9 771.4,941.5 776.2,938.1 C781.0,934.7 785.1,930.7 789.6,929.4 C794.1,928.1 799.6,929.6 803.1,930.4 C806.6,931.2 807.9,934.5 810.8,934.2 C813.7,933.9 816.9,932.0 820.4,928.5 C823.9,925.0 828.0,917.4 831.9,913.1 C835.8,908.8 839.6,904.0 843.5,902.5 C847.4,901.0 851.2,903.4 855.0,904.4 C858.8,905.4 862.4,907.8 866.5,908.3 C870.6,908.8 875.8,906.8 879.6,907.1 C883.4,907.4 886.0,908.9 889.2,910.0 C892.4,911.1 895.6,914.4 898.8,913.8 C902.0,913.2 905.0,909.1 908.5,906.2 C912.0,903.3 916.5,896.8 920.0,896.5 C923.5,896.2 926.4,901.0 929.6,904.2 C932.8,907.4 936.3,913.3 939.2,915.8 C942.1,918.3 943.7,919.5 946.9,919.2 C950.1,918.9 954.6,915.6 958.5,913.8 C962.4,911.9 965.5,909.7 970.0,908.1 C974.5,906.5 980.9,905.8 985.4,904.2 C989.9,902.6 993.0,900.4 996.9,898.5 C1000.8,896.6 1005.0,895.9 1008.5,892.7 C1012.0,889.5 1014.9,884.3 1018.1,879.2 C1021.3,874.1 1024.5,865.6 1027.7,861.9 C1030.9,858.2 1033.1,856.6 1037.3,857.1 C1041.5,857.6 1048.5,864.1 1052.7,864.8 C1056.9,865.4 1058.8,863.2 1062.3,861.0 C1065.8,858.8 1069.6,853.7 1073.8,851.3 C1078.0,848.9 1083.1,849.2 1087.3,846.5 C1091.5,843.8 1095.2,839.8 1098.8,835.0 C1102.4,830.2 1105.0,823.4 1109.0,817.7 C1113.0,812.0 1119.6,804.0 1123.1,800.7 C1126.6,797.4 1127.4,799.3 1130.0,798.1 C1132.6,796.9 1136.1,796.4 1138.8,793.7 C1141.5,791.0 1143.9,786.9 1146.1,782.0 C1148.3,777.1 1150.0,770.3 1151.9,764.5 C1153.9,758.7 1155.8,751.9 1157.8,747.0 C1159.8,742.1 1161.4,739.2 1163.6,735.3 C1165.8,731.4 1168.2,728.0 1170.9,723.6 C1173.6,719.2 1177.2,714.4 1179.7,709.0 C1182.2,703.6 1183.6,697.2 1185.6,691.4 C1187.5,685.5 1189.7,680.5 1191.4,673.9 C1193.1,667.3 1194.6,657.5 1195.8,651.9 C1197.0,646.2 1197.7,644.0 1198.6,640.0 C1199.5,636.0 1199.7,633.9 1201.1,627.7 C1202.5,621.6 1205.2,611.3 1207.2,603.1 C1209.2,594.9 1211.0,586.7 1212.8,578.5 C1214.5,570.3 1216.1,562.0 1217.7,553.8 C1219.3,545.6 1220.7,538.2 1222.6,529.2 C1224.5,520.2 1227.9,506.4 1229.2,500.0 C1230.5,493.6 1229.2,496.9 1230.5,490.8 C1231.8,484.7 1234.8,472.3 1237.0,463.1 C1239.2,453.9 1241.3,444.6 1243.5,435.4 C1245.7,426.2 1248.3,415.3 1249.9,407.7 C1251.5,400.1 1252.4,394.6 1253.3,390.0 C1254.2,385.4 1254.6,386.1 1255.5,380.0 C1256.4,373.9 1257.3,363.7 1258.8,353.1 C1260.3,342.5 1262.6,328.5 1264.4,316.2 C1266.2,303.9 1267.9,291.5 1269.9,279.2 C1271.9,266.9 1273.8,254.6 1276.4,242.3 C1279.0,230.0 1282.5,216.2 1285.6,205.4 C1288.7,194.6 1291.7,184.5 1294.8,177.7 C1297.9,170.9 1300.1,168.5 1304.1,164.8 C1308.1,161.1 1315.5,157.7 1318.8,155.5 C1322.1,153.3 1321.2,153.7 1323.8,151.8 C1326.4,149.9 1330.9,143.4 1334.4,144.0 C1337.9,144.6 1341.5,149.4 1345.0,155.4 C1348.5,161.4 1352.1,169.5 1355.6,180.1 C1359.1,190.7 1362.4,199.1 1366.2,219.0 C1370.0,238.9 1374.8,275.1 1378.2,299.6 C1381.6,324.1 1384.0,346.5 1386.5,365.8 C1389.0,385.1 1391.3,403.1 1393.1,415.5 C1394.9,427.9 1396.0,430.3 1397.4,440.0 C1398.8,449.7 1400.1,462.5 1401.3,473.8 C1402.5,485.1 1403.4,496.4 1404.7,507.7 C1406.0,519.0 1407.5,530.2 1408.9,541.5 C1410.3,552.8 1411.6,564.0 1413.1,575.3 C1414.6,586.6 1416.3,597.8 1417.7,609.1 C1419.1,620.4 1420.5,634.5 1421.6,643.0 C1422.7,651.5 1423.3,653.8 1424.2,660.0 C1425.1,666.2 1425.4,670.0 1427.0,680.0 C1428.6,690.0 1431.7,706.7 1434.0,720.0 C1436.3,733.3 1438.5,746.7 1441.0,760.0 C1443.5,773.3 1446.3,786.7 1449.0,800.0 C1451.7,813.3 1454.7,826.7 1457.0,840.0 C1459.3,853.3 1461.6,870.0 1463.0,880.0 C1464.4,890.0 1463.3,888.3 1465.6,900.0 C1467.9,911.7 1474.2,938.6 1476.8,950.0 C1479.4,961.4 1479.6,962.4 1481.4,968.5 C1483.2,974.6 1485.9,980.8 1487.9,986.9 C1489.9,993.0 1491.4,999.2 1493.4,1005.4 C1495.4,1011.6 1497.6,1018.5 1499.9,1023.9 C1502.2,1029.3 1504.8,1034.5 1507.2,1037.7 C1509.7,1040.9 1511.5,1042.1 1514.6,1043.3 C1517.7,1044.5 1522.8,1044.8 1525.7,1045.1 C1528.6,1045.4 1531.0,1045.3 1532.0,1045.3" stroke="#008400"/>
</g>
<text id="t100" x="242.07" y="1163.80" font-size="68.60" textLength="99.98" lengthAdjust="spacingAndGlyphs">100</text>
<text id="t200" x="516.61" y="1163.80" font-size="68.60" textLength="99.02" lengthAdjust="spacingAndGlyphs">200</text>
<text id="t300" x="790.55" y="1163.80" font-size="68.60" textLength="99.43" lengthAdjust="spacingAndGlyphs">300</text>
<text id="t400" x="1065.79" y="1163.80" font-size="68.60" textLength="98.42" lengthAdjust="spacingAndGlyphs">400</text>
<text id="t500" x="1338.93" y="1163.80" font-size="68.60" textLength="99.50" lengthAdjust="spacingAndGlyphs">500</text>
<text id="xl1" x="582.20" y="1264.20" font-size="66.30" textLength="457.44" lengthAdjust="spacingAndGlyphs">Raman shift (cm</text>
<text id="xl2" x="1037.20" y="1233.00" font-size="40.00" textLength="24.51" lengthAdjust="spacingAndGlyphs" font-weight="normal">&#8722;</text>
<text id="xl3" x="1058.50" y="1228.70" font-size="41.00" textLength="19.14" lengthAdjust="spacingAndGlyphs">1</text>
<text id="xl4" x="1075.90" y="1264.20" font-size="66.30" textLength="24.68" lengthAdjust="spacingAndGlyphs">)</text>
<text id="yl" x="0" y="0" transform="translate(77.20,821.00) rotate(-90)" font-size="66.70" textLength="540.13" lengthAdjust="spacingAndGlyphs">Intensity (arb.unit)</text>
<text id="ta" x="367.00" y="730.00" font-size="62.50" textLength="82.19" lengthAdjust="spacingAndGlyphs">TA</text>
<text id="la" x="816.60" y="865.80" font-size="62.50" textLength="84.18" lengthAdjust="spacingAndGlyphs">LA</text>
<text id="to" x="1295.60" y="110.00" font-size="62.50" textLength="87.09" lengthAdjust="spacingAndGlyphs">TO</text>
<rect x="228.3" y="101.9" width="584.7" height="525" fill="#000"/>
<rect x="212.8" y="86.5" width="585" height="525" fill="#fff" stroke="#000" stroke-width="1.8"/>
<text id="lt" x="234.90" y="169.60" font-size="65.80" textLength="528.13" lengthAdjust="spacingAndGlyphs">Treated power (W)</text>
<line x1="233.5" y1="228.3" x2="377" y2="228.3" stroke="#000000" stroke-width="5.5" stroke-linecap="round"/>
<text id="l0" x="393.70" y="251.70" font-size="66.00" textLength="360.63" lengthAdjust="spacingAndGlyphs">as-deposition</text>
<line x1="233.5" y1="308.9" x2="377" y2="308.9" stroke="#ff0000" stroke-width="5.5" stroke-linecap="round"/>
<text id="l1" x="392.00" y="332.30" font-size="66.00" textLength="67.65" lengthAdjust="spacingAndGlyphs">30</text>
<line x1="233.5" y1="389.4" x2="377" y2="389.4" stroke="#0000ff" stroke-width="5.5" stroke-linecap="round"/>
<text id="l2" x="394.00" y="412.80" font-size="66.00" textLength="65.47" lengthAdjust="spacingAndGlyphs">40</text>
<line x1="233.5" y1="470.1" x2="377" y2="470.1" stroke="#96008c" stroke-width="5.5" stroke-linecap="round"/>
<text id="l3" x="392.00" y="493.50" font-size="66.00" textLength="67.65" lengthAdjust="spacingAndGlyphs">50</text>
<line x1="233.5" y1="550.9" x2="377" y2="550.9" stroke="#008400" stroke-width="5.5" stroke-linecap="round"/>
<text id="l4" x="393.00" y="574.30" font-size="66.00" textLength="66.55" lengthAdjust="spacingAndGlyphs">60</text>
</svg></body></html>
